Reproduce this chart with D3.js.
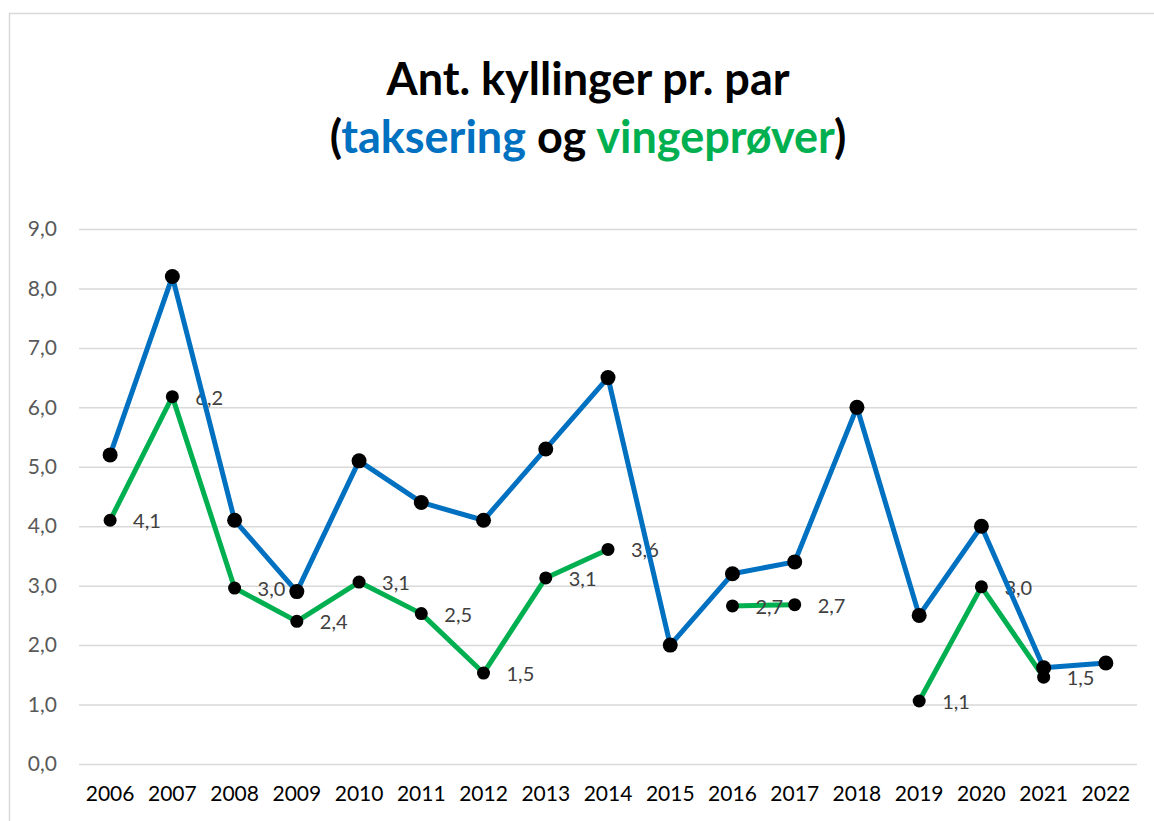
<!DOCTYPE html>
<html>
<head>
<meta charset="utf-8">
<script src="https://cdn.jsdelivr.net/npm/d3@7"></script>
<style>
  html, body { margin: 0; padding: 0; background: #fff; }
  svg { display: block; }
  text { font-family: Lato, "Open Sans", sans-serif; }
</style>
</head>
<body>
<svg id="chart" width="1154" height="821"></svg>
<script>
// ---- data ----
const years = ["2006","2007","2008","2009","2010","2011","2012","2013","2014","2015","2016","2017","2018","2019","2020","2021","2022"];
const taksering = [5.2, 8.2, 4.1, 2.9, 5.1, 4.4, 4.1, 5.3, 6.5, 2.0, 3.2, 3.4, 6.0, 2.5, 4.0, 1.62, 1.7];
const vingeprover = [4.1, 6.18, 2.96, 2.4, 3.06, 2.53, 1.53, 3.13, 3.61, null, 2.66, 2.68, null, 1.06, 2.98, 1.46, null];
const yTicks = [0,1,2,3,4,5,6,7,8,9];
const titleLine1 = "Ant. kyllinger pr. par";
const titleLine2 = [["(", "#000"], ["taksering", "#0070C0"], [" og ", "#000"], ["vingeprøver", "#00B050"], [")", "#000"]];

const BLUE = "#0070C0", GREEN = "#00B050";

const svg = d3.select("#chart");

// chart frame
svg.append("rect").attr("x", 9.5).attr("y", 13.5).attr("width", 1200).attr("height", 900)
  .attr("fill", "#fff").attr("stroke", "#D9D9D9").attr("stroke-width", 1.5);

const locale = d3.formatLocale({decimal: ",", thousands: " ", grouping: [3], currency: ["", " kr"]});
const fmt = locale.format(".1f");

const x = d3.scaleBand().domain(years).range([79, 1137]).padding(0);
const y = d3.scaleLinear().domain([0, 9]).range([764, 229]);
const cx = d => x(d) + x.bandwidth() / 2;

// y axis with gridlines
const yAxis = svg.append("g").attr("transform", "translate(79,0)")
  .call(d3.axisLeft(y).tickValues(yTicks).tickFormat(fmt).tickSize(-(1137 - 79)).tickPadding(22));
yAxis.select(".domain").remove();
yAxis.selectAll(".tick line").attr("stroke", "#D9D9D9").attr("stroke-width", 1.5);
yAxis.selectAll(".tick text").attr("fill", "#595959").style("font-size", "21px").style("font-family", "Lato, sans-serif");

// x axis
const xAxis = svg.append("g").attr("transform", "translate(0,764)")
  .call(d3.axisBottom(x).tickSize(0).tickPadding(22));
xAxis.select(".domain").remove();
xAxis.selectAll(".tick text").attr("fill", "#000").style("font-size", "21px").style("font-family", "Lato, sans-serif");

const gData = years.map((yr, i) => ({yr, v: vingeprover[i]}));
const bData = years.map((yr, i) => ({yr, v: taksering[i]}));

const line = d3.line().defined(d => d.v != null).x(d => cx(d.yr)).y(d => y(d.v));

// green series
svg.append("path").datum(gData).attr("d", line).attr("fill", "none")
  .attr("stroke", GREEN).attr("stroke-width", 5).attr("stroke-linejoin", "round");
svg.append("g").selectAll("circle").data(gData.filter(d => d.v != null)).join("circle")
  .attr("cx", d => cx(d.yr)).attr("cy", d => y(d.v)).attr("r", 6.5).attr("fill", "#000");
svg.append("g").selectAll("text").data(gData.filter(d => d.v != null)).join("text")
  .attr("x", d => cx(d.yr) + 23).attr("y", d => y(d.v)).attr("dy", "0.4em")
  .attr("fill", "#404040").style("font-size", "20px").text(d => fmt(d.v));

// blue series
svg.append("path").datum(bData).attr("d", line).attr("fill", "none")
  .attr("stroke", BLUE).attr("stroke-width", 5).attr("stroke-linejoin", "round");
svg.append("g").selectAll("circle").data(bData).join("circle")
  .attr("cx", d => cx(d.yr)).attr("cy", d => y(d.v)).attr("r", 7.5).attr("fill", "#000");

// title
svg.append("text").attr("x", 588).attr("y", 95).attr("text-anchor", "middle")
  .style("font-size", "45px").style("font-weight", "bold").attr("fill", "#000").text(titleLine1);
const t2 = svg.append("text").attr("x", 588).attr("y", 153).attr("text-anchor", "middle")
  .style("font-size", "45px").style("font-weight", "bold");
t2.selectAll("tspan").data(titleLine2).join("tspan").attr("fill", d => d[1]).text(d => d[0]);
</script>
</body>
</html>
